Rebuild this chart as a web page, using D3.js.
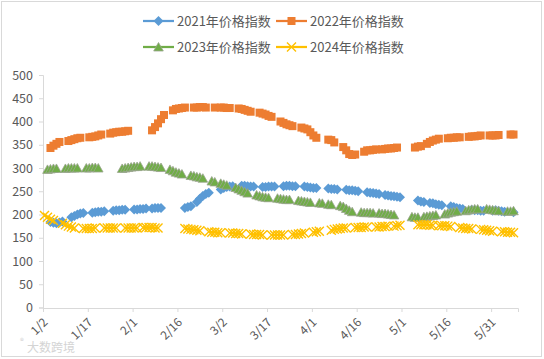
<!DOCTYPE html>
<html>
<head>
<meta charset="utf-8">
<script src="https://cdn.jsdelivr.net/npm/d3@7"></script>
<style>
  body { margin: 0; background: #fff; }
  text { font-family: "Microsoft YaHei", "Noto Sans CJK SC", sans-serif; }
</style>
</head>
<body>
<svg id="chart"></svg>
<script>
const n = null;

// one row per week, starting at 1/2 (blank = no price that day)
const s2021 = [
  n, n, 184, 182, 181, 183, 185,
  n, n, 194, 197, 200, 202, 203,
  n, n, 204, 205, 206, 206, 207,
  n, n, 208, 209, 209, 210, 210,
  n, n, 211, 211, 212, 212, 213,
  n, 213, 214, 214, 214, n, n,
  n, n, n, n, n, 214, 216,
  218, n, 227, 234, 240, 244, 247,
  n, n, n, 254, 257, 259, 260,
  261, n, n, 262, 262, 261, 260,
  260, n, n, 259, 259, 260, 260,
  260, n, n, 261, 262, 262, 261,
  261, n, n, 260, 259, 258, 257,
  257, n, n, n, 256, 255, 255,
  254, n, n, 253, 252, 252, 251,
  250, n, n, 248, 247, 246, 245,
  244, n, 242, 241, 240, 239, 238,
  237, n, n, n, n, n, 230,
  228, 227, n, 225, 224, 222, 221,
  220, n, n, 218, 216, 214, 213,
  212, n, n, 210, 209, 209, 208,
  208, n, n, 208, 209, 208, 207,
  206, n, n, 205, n
];

const s2022 = [
  n, n, 343, 348, 352, 356, n,
  n, 358, 360, 362, 364, 365, n,
  n, 366, 367, 368, 370, 372, n,
  n, 374, 376, 377, 378, 378, 379,
  380, n, n, n, n, n, n,
  n, 381, 388, 396, 405, 414, n,
  n, 424, 427, 428, 429, 430, n,
  n, 430, 430, 431, 431, 430, n,
  n, 430, n, 430, 430, 429, 429,
  n, n, 428, 427, 425, 423, 421,
  n, n, 419, 417, 415, 412, 410,
  n, n, 400, 397, 394, 392, 390,
  n, n, 387, 385, 383, 377, 370,
  365, n, n, n, 361, 360, 355,
  n, n, 345, 338, 330, 328, 329,
  n, n, 335, 338, 338, 339, 340,
  n, 340, 341, 342, 342, 343, 344,
  n, n, n, n, n, 344, 346,
  347, n, 352, 356, 359, 361, 363,
  n, n, 364, 365, 365, 366, 366,
  n, n, 367, 368, 368, 369, 370,
  n, n, 370, 370, 370, 371, n,
  n, n, 372, 372, n
];

const s2023 = [
  n, 297, 298, 299, 299, n, n,
  299, 300, 300, 300, 300, n, n,
  300, 300, 301, 301, 300, n, n,
  n, n, n, n, n, 299, 300,
  301, 302, 303, 303, 304, n, n,
  304, 304, 303, 302, 301, n, n,
  297, 294, 291, 289, 287, n, n,
  284, 283, 281, 280, 278, n, n,
  272, 270, n, 267, 265, 263, n,
  n, 258, 255, 252, 249, 246, n,
  n, 242, 240, 238, 237, 236, n,
  n, 235, 234, 233, 232, 232, n,
  n, 230, 229, 228, 227, 226, n,
  n, 225, 224, n, 222, 221, n,
  n, 219, 217, 213, 209, 206, n,
  n, 205, 204, 204, 204, 203, n,
  203, 202, 202, 201, 200, 199, n,
  n, n, n, n, 195, 194, 194,
  n, 195, 196, 197, 198, 199, n,
  n, 201, 203, 205, 206, 207, n,
  n, 208, 210, 211, 212, 212, n,
  n, 212, 211, 210, 209, 208, n,
  n, 207, 207, 208, n
];

const s2024 = [
  198, 194, 190, 187, n, n, 181,
  178, 175, 173, 171, n, n, 170,
  170, 170, 170, 171, n, n, 171,
  171, 171, 171, 171, n, n, 171,
  171, 171, 171, 171, n, 172, 172,
  172, 172, 171, 171, n, n, n,
  n, n, n, n, n, 170, 169,
  168, 167, 166, 165, n, n, 163,
  162, 162, 161, 161, n, n, 160,
  160, 159, 159, 158, n, n, 158,
  157, 157, 157, 156, n, n, 156,
  156, 156, 156, 156, n, n, 157,
  157, 158, 159, 160, n, n, 162,
  163, 164, n, n, n, 166, 168,
  169, 170, 171, 171, n, n, 172,
  172, 172, 173, 173, n, n, 173,
  173, 174, 174, 175, n, 175, 176,
  177, n, n, n, n, n, 178,
  178, 178, 178, 177, 177, n, 176,
  176, 176, 175, 174, n, n, 172,
  171, 170, 170, 169, n, n, 168,
  167, 166, 165, 164, n, n, 163,
  163, 162, 162, 161, n
];

const seriesNames = ["2021年价格指数", "2022年价格指数", "2023年价格指数", "2024年价格指数"];
const seriesColors = ["#5b9bd5", "#ed7d31", "#70ad47", "#ffc000"];
const tickLabels = ["1/2", "1/17", "2/1", "2/16", "3/2", "3/17", "4/1", "4/16", "5/1", "5/16", "5/31"];
const yTicks = [0, 50, 100, 150, 200, 250, 300, 350, 400, 450, 500];

// daily categories 1/2 .. 6/8
const categories = d3.timeDay.range(new Date(2024, 0, 2), new Date(2024, 5, 9))
  .map(d => `${d.getMonth() + 1}/${d.getDate()}`);

const W = 544, H = 359;
const svg = d3.select('#chart').attr('width', W).attr('height', H);

svg.append('rect')
  .attr('x', 1.5).attr('y', 1.5).attr('width', 540).attr('height', 355)
  .attr('fill', '#fff').attr('stroke', '#d9d9d9');

const x = d3.scaleLinear().domain([0, categories.length]).range([43, 518]);
const y = d3.scaleLinear().domain([0, 500]).range([307.5, 75]);

// y axis
const yAxis = svg.append('g')
  .attr('transform', 'translate(43,0)')
  .call(d3.axisLeft(y).tickValues(yTicks).tickSize(4).tickPadding(6));
yAxis.select('.domain').attr('stroke', '#d9d9d9');
yAxis.selectAll('.tick line').attr('stroke', '#d9d9d9');
yAxis.selectAll('text').attr('fill', '#595959').style('font-size', '12.5px');

// x axis
const tickIdx = tickLabels.map(t => categories.indexOf(t));
const xAxis = svg.append('g')
  .attr('transform', 'translate(0,308)')
  .call(d3.axisBottom(x).tickValues(tickIdx).tickSize(4).tickFormat(i => categories[i]));
xAxis.select('.domain').attr('stroke', '#d9d9d9');
xAxis.selectAll('.tick line').attr('stroke', '#d9d9d9');
xAxis.selectAll('text')
  .attr('fill', '#595959').style('font-size', '12px')
  .attr('text-anchor', 'end')
  .attr('x', 0).attr('y', 0).attr('dy', '0.35em')
  .attr('transform', 'translate(2,12) rotate(-45)');

// marker drawers
const markers = [
  (g, c) => g.append('path').attr('d', 'M0,-5L5,0L0,5L-5,0Z').attr('fill', c),
  (g, c) => g.append('rect').attr('x', -4).attr('y', -4).attr('width', 8).attr('height', 8).attr('fill', c),
  (g, c) => g.append('path').attr('d', 'M0,-4.5L4.8,4L-4.8,4Z').attr('fill', c)
    .attr('stroke', '#9aa58f').attr('stroke-width', 0.8),
  (g, c) => g.append('path').attr('d', 'M-4.5,-4.5L4.5,4.5M4.5,-4.5L-4.5,4.5')
    .attr('stroke', c).attr('stroke-width', 1.4).attr('fill', 'none')
];

const allSeries = [s2021, s2022, s2023, s2024];
const line = d3.line()
  .defined(d => d != null)
  .x((d, i) => x(i + 0.5))
  .y(d => y(d));

allSeries.forEach((vals, k) => {
  const g = svg.append('g');
  g.append('path')
    .attr('d', line(vals))
    .attr('fill', 'none')
    .attr('stroke', seriesColors[k])
    .attr('stroke-width', 2.25);
  vals.forEach((v, i) => {
    if (v == null) return;
    const m = g.append('g').attr('transform', `translate(${x(i + 0.5)},${y(v)})`);
    markers[k](m, seriesColors[k]);
  });
});

// legend
const legendPos = [[143, 21], [276, 21], [143, 47], [276, 47]];
seriesNames.forEach((name, k) => {
  const [lx, ly] = legendPos[k];
  const g = svg.append('g').attr('transform', `translate(${lx},${ly})`);
  g.append('line').attr('x1', 0).attr('x2', 31).attr('y1', 0).attr('y2', 0)
    .attr('stroke', seriesColors[k]).attr('stroke-width', 2.25);
  markers[k](g.append('g').attr('transform', 'translate(15.5,0)'), seriesColors[k]);
  g.append('text').attr('x', 34).attr('y', 0).attr('dy', '0.35em')
    .attr('fill', '#595959').style('font-size', '13px').text(name);
});

// watermark
svg.append('text').attr('x', 20).attr('y', 344).attr('fill', '#cfcfcf')
  .style('font-size', '8px').text('®');
svg.append('text').attr('x', 27).attr('y', 352).attr('fill', '#d4d4d4')
  .style('font-size', '12px').text('大数跨境');
</script>
</body>
</html>
